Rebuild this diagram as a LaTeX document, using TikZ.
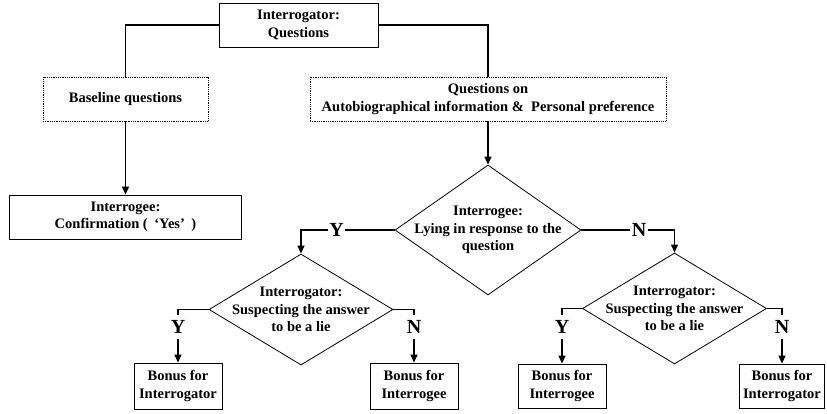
\documentclass[tikz,border=0pt]{standalone}
\usepackage{fontspec}
\setmainfont{Liberation Serif}
\usetikzlibrary{arrows.meta,shapes.geometric}
\begin{document}
\begin{tikzpicture}[x=1pt,y=-1pt,
  txt/.style={font=\fontsize{14.5}{17.5}\selectfont\bfseries, align=center},
  solidbox/.style={draw, line width=0.8pt, inner sep=0pt, txt},
  dotbox/.style={draw, densely dotted, line width=0.8pt, inner sep=0pt, txt},
  dia/.style={draw, diamond, line width=0.8pt, inner sep=0pt},
  conn/.style={line width=1.2pt},
  arr/.style={line width=1.2pt, -{Triangle[length=8pt,width=7pt]}},
  yn/.style={font=\fontsize{20}{22}\selectfont\bfseries, inner sep=0pt, minimum height=24pt, fill=white},
  ynmid/.style={font=\fontsize{20}{22}\selectfont\bfseries, inner xsep=1.5pt, inner ysep=0pt, fill=white}
]
\useasboundingbox (0,0) rectangle (827,414);

% boxes
\node[solidbox, minimum width=159pt, minimum height=44pt] (top) at (298.5,25) {Interrogator:\\Questions};
\node[dotbox, minimum width=165pt, minimum height=44pt] (base) at (125.5,99) {Baseline questions};
\node[dotbox, minimum width=356pt, minimum height=44pt] (q) at (488,99) {Questions on\\Autobiographical information \&\ \ Personal preference};
\node[solidbox, minimum width=232pt, minimum height=44pt] (ee) at (125.5,217) {Interrogee:\\Confirmation (\hspace{0.45em}‘Yes’\hspace{0.45em})};

% diamonds
\node[dia, minimum width=186pt, minimum height=130pt] (d1) at (488,230) {};
\node[txt] at (d1.center) {Interrogee:\\Lying in response to the\\question};
\node[dia, minimum width=184pt, minimum height=111pt] (d2) at (301,309.5) {};
\node[txt] at (d2.center) {Interrogator:\\Suspecting the answer\\to be a lie};
\node[dia, minimum width=184pt, minimum height=111pt] (d3) at (674.5,308.5) {};
\node[txt] at (d3.center) {Interrogator:\\Suspecting the answer\\to be a lie};

% outcome boxes
\node[solidbox, minimum width=88pt, minimum height=46pt] (b1) at (178,386) {Bonus for\\Interrogator};
\node[solidbox, minimum width=88pt, minimum height=46pt] (b2) at (414,386) {Bonus for\\Interrogee};
\node[solidbox, minimum width=88pt, minimum height=44pt] (b3) at (562,386) {Bonus for\\Interrogee};
\node[solidbox, minimum width=85pt, minimum height=44pt] (b4) at (782,386) {Bonus for\\Interrogator};

% lower Y/N labels
\node[yn] (l1) at (178,327) {Y};
\node[yn] (l2) at (414,327) {N};
\node[yn] (l3) at (562,327) {Y};
\node[yn] (l4) at (782,327) {N};

% connectors
\draw[conn] (top.west) -| (base.north);
\draw[conn] (top.east) -| (q.north);
\draw[arr] (base.south) -- (ee.north);
\draw[arr] (q.south) -- (d1.north);

\coordinate (c1) at (d2.north |- d1.west);
\coordinate (c2) at (d3.north |- d1.east);
\draw[arr] (d1.west) -- node[ynmid, pos=0.62] {Y} (c1) -- (d2.north);
\draw[arr] (d1.east) -- node[ynmid, pos=0.62] {N} (c2) -- (d3.north);

\draw[conn] (d2.west) -| (l1.north);
\draw[arr] (l1.south) -- (b1.north);
\draw[conn] (d2.east) -| (l2.north);
\draw[arr] (l2.south) -- (b2.north);
\draw[conn] (d3.west) -| (l3.north);
\draw[arr] (l3.south) -- (b3.north);
\draw[conn] (d3.east) -| (l4.north);
\draw[arr] (l4.south) -- (b4.north);
\end{tikzpicture}
\end{document}
